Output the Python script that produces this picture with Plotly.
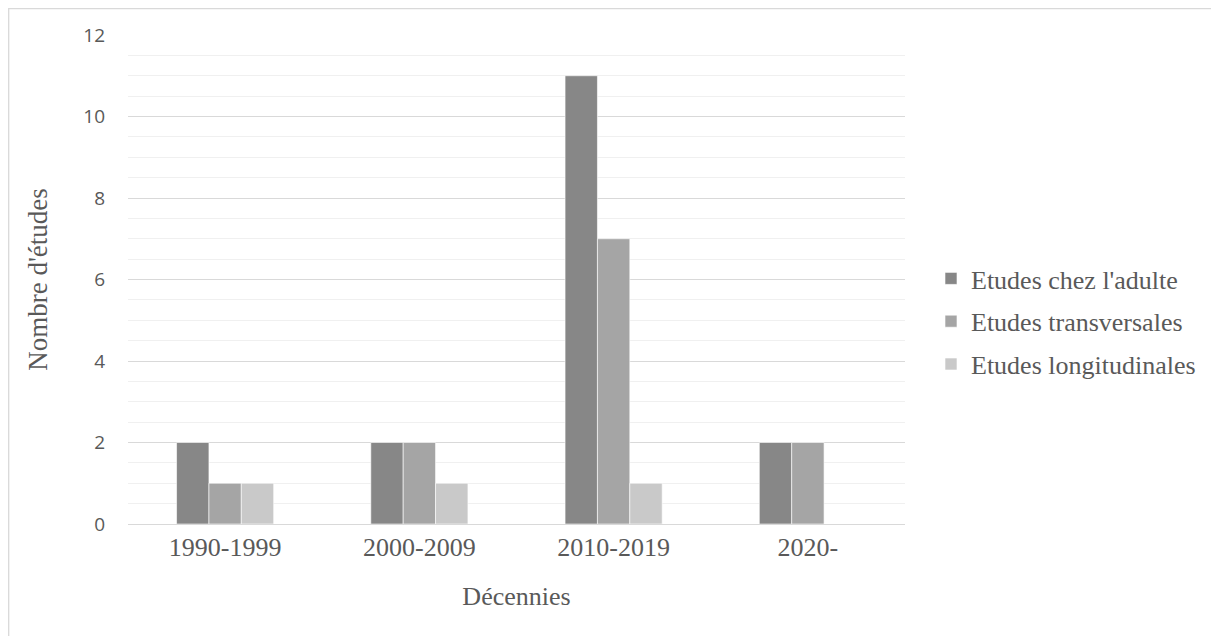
import plotly.graph_objects as go

decennies = ["1990-1999", "2000-2009", "2010-2019", "2020-"]
adulte = [2, 2, 11, 2]
transversales = [1, 2, 7, 2]
longitudinales = [1, 1, 1, 0]
series_names = ["Etudes chez l'adulte", "Etudes transversales", "Etudes longitudinales"]
colors = ["#878787", "#a5a5a5", "#c9c9c9"]

# page has an 8px body margin; figure coordinates are screen coordinates minus 8
W, H = 1211, 628
L, R, T, B = 120, 897, 27, 516

fig = go.Figure()
for i, (name, vals) in enumerate(zip(series_names, [adulte, transversales, longitudinales])):
    fig.add_trace(go.Bar(x=decennies, y=vals, name=name,
                         marker=dict(color=colors[i], line=dict(width=0.6, color="white")),
                         legendgroup=f"g{i}"))

serif = "Liberation Serif"
sans = "Open Sans"
txt = "#595959"

def px_to_paper_x(px):
    return (px - L) / (R - L)

def px_to_paper_y(py):
    return (B - py) / (B - T)

fig.update_layout(
    width=W, height=H,
    margin=dict(l=L, r=W - R, t=T, b=H - B, autoexpand=False),
    paper_bgcolor="white", plot_bgcolor="white",
    barmode="group", bargap=0.5, bargroupgap=0,
    showlegend=True,
    legend=dict(x=px_to_paper_x(923), y=px_to_paper_y(247), xanchor="left", yanchor="top",
                font=dict(family=serif, size=26, color=txt), tracegroupgap=6,
                itemwidth=30, bgcolor="rgba(0,0,0,0)"),
    xaxis=dict(showgrid=False, showline=True, linecolor="#d9d9d9", linewidth=1.3,
               ticks="", tickfont=dict(family=serif, size=26, color=txt),
               title=dict(text="Décennies", font=dict(family=serif, size=26, color=txt), standoff=25)),
    yaxis=dict(range=[0, 12], dtick=2, showgrid=True, gridcolor="#d9d9d9", gridwidth=1.3,
               zeroline=False, showline=False, ticks="", ticklabelstandoff=22,
               tickfont=dict(family=sans, size=19, color=txt),
               minor=dict(dtick=0.5, showgrid=True, gridcolor="#f0f0f0", gridwidth=1.3),
               title=dict(text="Nombre d'études", font=dict(family=serif, size=27, color=txt), standoff=27)),
    shapes=[dict(type="rect", xref="paper", yref="paper",
                 x0=px_to_paper_x(0.7), x1=px_to_paper_x(1240),
                 y0=px_to_paper_y(660), y1=px_to_paper_y(0.7),
                 line=dict(color="#d9d9d9", width=1.3), fillcolor="rgba(0,0,0,0)", layer="below")],
)

fig.write_html("out.html")
